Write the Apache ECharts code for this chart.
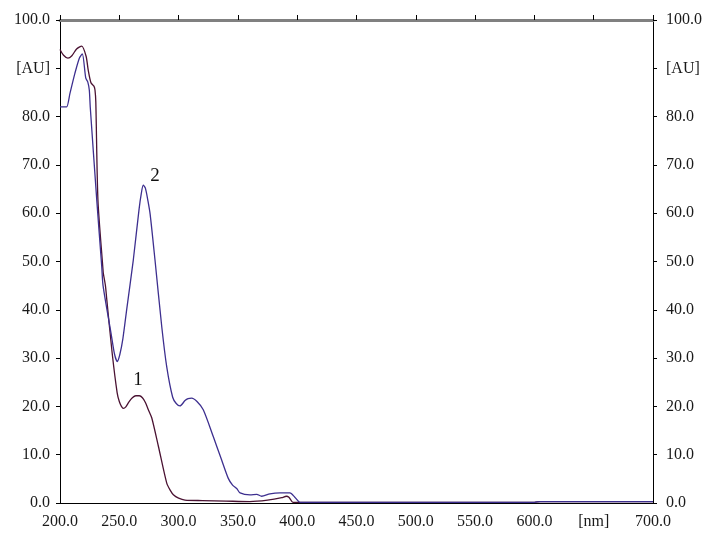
<!DOCTYPE html>
<html>
<head>
<meta charset="utf-8">
<script src="https://cdn.jsdelivr.net/npm/echarts@6/dist/echarts.min.js"></script>
<style>html,body{margin:0;padding:0;background:#fff;}#chart{width:713px;height:550px;}</style>
</head>
<body>
<div id="chart"></div>
<script>
// Wavelength (nm) and absorbance (AU) for curve 1 (maroon)
const wl1 = [200, 203, 206.7, 210, 214, 218.3, 222, 223.8, 226.1, 228.6, 229.5, 230.2, 232, 236.2, 236.5, 238.3, 239.5, 244, 248.2, 250, 251.8, 253.4, 255.5, 258, 261, 264, 266.9, 269.5, 272, 274.5, 277.4, 283, 290, 293, 295.6, 300, 305.4, 320, 340, 360, 375, 387, 390.8, 393, 396.4, 400, 450, 500, 550, 600, 605, 650, 700];
const au1 = [93.9, 92.7, 92.1, 92.6, 94.0, 94.6, 92.5, 89.6, 87.0, 86.3, 85.5, 83.0, 62.7, 48.5, 47.6, 45.0, 42.0, 31.0, 22.8, 21.0, 20.0, 19.6, 19.9, 20.9, 21.8, 22.2, 22.2, 21.8, 20.8, 19.3, 17.6, 11.7, 4.1, 2.6, 1.7, 1.0, 0.6, 0.5, 0.4, 0.3, 0.6, 1.1, 1.4, 1.2, 0.15, 0.15, 0.15, 0.15, 0.15, 0.15, 0.3, 0.3, 0.3];

// Curve 2 (blue)
const wl2 = [200, 203, 205.6, 208.4, 212.6, 216.3, 218.8, 221.7, 223.4, 224.7, 225.5, 231, 235.2, 236.3, 243, 246, 248.3, 250.5, 253, 256.2, 261.8, 266.6, 268.5, 270.2, 272, 274.2, 276, 280.1, 285.8, 290, 295, 298, 301.2, 305.4, 308, 311, 315.5, 320.8, 329.3, 336.3, 341.9, 345.5, 349, 351.8, 360.2, 365.9, 370, 377, 385.5, 393.9, 398, 402.4, 450, 500, 550, 600, 605, 650, 700];
const au2 = [82.0, 82.0, 82.0, 84.8, 89.0, 92.1, 93.0, 88.0, 87.2, 85.5, 82.0, 62.7, 48.9, 45.0, 35.2, 30.8, 29.3, 30.8, 34.0, 40.0, 50.3, 60.7, 64.0, 65.8, 65.2, 62.5, 59.8, 50.3, 36.5, 28.2, 21.9, 20.6, 20.1, 21.2, 21.6, 21.7, 21.0, 19.3, 13.7, 8.9, 5.1, 3.7, 3.0, 2.1, 1.7, 1.8, 1.4, 1.9, 2.1, 2.1, 1.2, 0.15, 0.15, 0.15, 0.15, 0.15, 0.3, 0.3, 0.3];

const xTicks = [200, 250, 300, 350, 400, 450, 500, 550, 600, 650, 700];
const xTickText = ['200.0', '250.0', '300.0', '350.0', '400.0', '450.0', '500.0', '550.0', '600.0', '[nm]', '700.0'];
const yTicks = [0, 10, 20, 30, 40, 50, 60, 70, 80, 90, 100];
const yTickText = ['0.0', '10.0', '20.0', '30.0', '40.0', '50.0', '60.0', '70.0', '80.0', '[AU]', '100.0'];

const curveLabels = [
  { name: '1', x: 265.8, y: 25.5 },
  { name: '2', x: 280.0, y: 67.7 }
];

const FONT = '"Liberation Serif", "Times New Roman", serif';

function xFmt(v) { const i = xTicks.indexOf(v); return i >= 0 ? xTickText[i] : ''; }
function yFmt(v) { const i = yTicks.indexOf(v); return i >= 0 ? yTickText[i] : ''; }

const chart = echarts.init(document.getElementById('chart'), null, { renderer: 'canvas' });

const yAxisBase = {
  type: 'value', min: 0, max: 100, interval: 10,
  splitLine: { show: false },
  axisLine: { show: true, lineStyle: { color: '#000', width: 1 } },
  axisTick: { show: true, inside: false, length: 4, lineStyle: { color: '#000' } },
  axisLabel: { formatter: yFmt, fontFamily: FONT, fontSize: 16, color: '#1a1a1a' }
};

chart.setOption({
  backgroundColor: '#fff',
  animation: false,
  grid: { left: 60, right: 60, top: 20, bottom: 47, containLabel: false },
  xAxis: [
    {
      type: 'value', min: 200, max: 700, interval: 50, position: 'bottom',
      splitLine: { show: false },
      axisLine: { show: true, onZero: false, lineStyle: { color: '#000', width: 1.2 } },
      axisTick: { show: false },
      axisLabel: { formatter: xFmt, fontFamily: FONT, fontSize: 16, color: '#1a1a1a', margin: 11 }
    },
    {
      type: 'value', min: 200, max: 700, interval: 50, position: 'top',
      splitLine: { show: false },
      axisLine: { show: true, onZero: false, lineStyle: { color: '#808080', width: 3 } },
      axisTick: { show: true, inside: false, length: 5, lineStyle: { color: '#000', width: 1 } },
      axisLabel: { show: false }
    }
  ],
  yAxis: [
    Object.assign({}, yAxisBase, { position: 'left', axisLabel: Object.assign({}, yAxisBase.axisLabel, { margin: 10 }) }),
    Object.assign({}, yAxisBase, { position: 'right', axisLabel: Object.assign({}, yAxisBase.axisLabel, { margin: 13 }) })
  ],
  series: [
    {
      name: '1', type: 'line', xAxisIndex: 0, yAxisIndex: 0,
      data: wl1.map((w, i) => [w, au1[i]]),
      smooth: 0.25, showSymbol: false, symbol: 'none',
      lineStyle: { color: '#4a1232', width: 1.3 },
      markPoint: {
        symbol: 'circle', symbolSize: 0,
        label: { show: true, position: 'inside', formatter: '{b}', fontFamily: FONT, fontSize: 19, color: '#111' },
        data: [{ name: curveLabels[0].name, coord: [curveLabels[0].x, curveLabels[0].y] }]
      }
    },
    {
      name: '2', type: 'line', xAxisIndex: 0, yAxisIndex: 0,
      data: wl2.map((w, i) => [w, au2[i]]),
      smooth: 0.25, showSymbol: false, symbol: 'none',
      lineStyle: { color: '#3d2f8f', width: 1.3 },
      markPoint: {
        symbol: 'circle', symbolSize: 0,
        label: { show: true, position: 'inside', formatter: '{b}', fontFamily: FONT, fontSize: 19, color: '#111' },
        data: [{ name: curveLabels[1].name, coord: [curveLabels[1].x, curveLabels[1].y] }]
      }
    }
  ]
});
</script>
</body>
</html>
